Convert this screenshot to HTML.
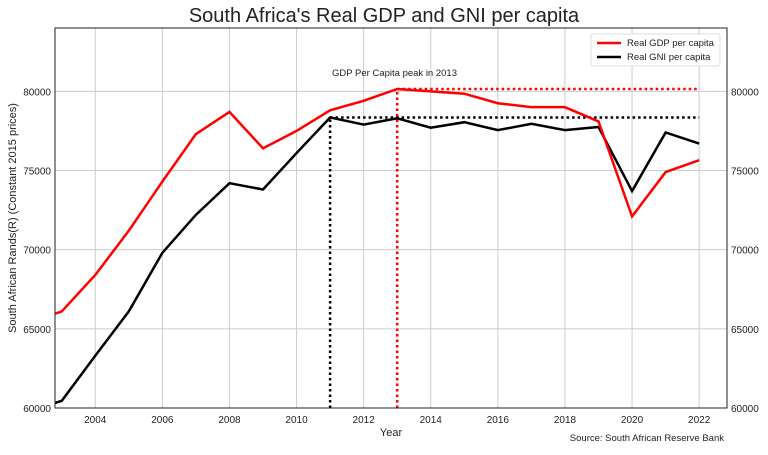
<!DOCTYPE html>
<html><head><meta charset="utf-8"><style>
body{margin:0;background:#fff;font-family:"Liberation Sans",sans-serif}
svg text{font-family:"Liberation Sans",sans-serif}
</style></head><body>
<svg id="c" width="768" height="450"></svg>
<script>
const years=[2002,2003,2004,2005,2006,2007,2008,2009,2010,2011,2012,2013,2014,2015,2016,2017,2018,2019,2020,2021,2022];
const gdp=[65400,66100,68400,71200,74300,77300,78700,76400,77500,78800,79400,80150,80000,79850,79250,79000,79000,78100,72100,74900,75650];
const gni=[59800,60450,63300,66100,69800,72200,74200,73800,76100,78350,77900,78300,77700,78050,77550,77950,77550,77750,73700,77400,76700];
const xTicks=[2004,2006,2008,2010,2012,2014,2016,2018,2020,2022];
const yTicks=[60000,65000,70000,75000,80000];
const L=55,R=727,T=28,B=408,x0=2002.8,x1=2022.83,y0=60000,y1=84000;
const X=v=>L+(v-x0)/(x1-x0)*(R-L), Y=v=>B-(v-y0)/(y1-y0)*(B-T);
const s=document.getElementById('c'),NS='http://www.w3.org/2000/svg';
function el(t,a,p){const e=document.createElementNS(NS,t);for(const k in a)e.setAttribute(k,a[k]);(p||s).appendChild(e);return e;}
const defs=el('defs',{});const cp=el('clipPath',{id:'clip'},defs);el('rect',{x:L,y:T,width:R-L,height:B-T},cp);
xTicks.forEach(v=>{const g=el('line',{x1:X(v),x2:X(v),y1:T,y2:B,stroke:'#ccc','stroke-width':1});


const t=el('text',{x:X(v),y:B+15,'font-size':10,'text-anchor':'middle',fill:'#222'});t.textContent=v;

});
yTicks.forEach(v=>{const g=el('line',{x1:L,x2:R,y1:Y(v),y2:Y(v),stroke:'#ccc','stroke-width':1});


const t=el('text',{x:L-4,y:Y(v)+4,'font-size':10,'text-anchor':'end',fill:'#222'});t.textContent=v;


const t2=el('text',{x:R+4,y:Y(v)+4,'font-size':10,'text-anchor':'start',fill:'#222'});t2.textContent=v;

});
const gpk=gdp[11],npk=gni[9];
function dl(a,b,c,d,col,n){const l=el('line',{x1:a,y1:b,x2:c,y2:d,stroke:col,'stroke-width':2.5,'stroke-dasharray':'2.5,3'});}
dl(X(2013),B,X(2013),Y(gpk),'#f00','gdp-peak-vertical');
dl(X(2013),Y(gpk),X(2022),Y(gpk),'#f00','gdp-peak-horizontal');
dl(X(2011),B,X(2011),Y(npk),'#000','gni-peak-vertical');
dl(X(2011),Y(npk),X(2022),Y(npk),'#000','gni-peak-horizontal');
function line(arr,col,n){const p=el('polyline',{points:years.map((y,i)=>X(y)+','+Y(arr[i])).join(' '),fill:'none',stroke:col,'stroke-width':2.5,'clip-path':'url(#clip)'});}
line(gni,'#000','gni-line');line(gdp,'#f00','gdp-line');
const fr=el('rect',{x:L,y:T,width:R-L,height:B-T,fill:'none',stroke:'#222','stroke-width':1});
function tx(x,y,t,fs,an,n,extra){const e=el('text',Object.assign({x:x,y:y,'font-size':fs,'text-anchor':an,fill:'#222'},extra||{}));e.textContent=t;}
tx(384,22,"South Africa's Real GDP and GNI per capita",20,'middle','chart-title');
tx(391,436,'Year',11,'middle','x-axis-title');
tx(16,218,'South African Rands(R) (Constant 2015 prices)',11,'middle','y-axis-title',{transform:'rotate(-90 16 218)'});
tx(332,76,'GDP Per Capita peak in 2013',9.5,'start','peak-annotation');
tx(724,441,'Source: South African Reserve Bank',9.5,'end','source-note');
const lg=el('rect',{x:591,y:34,width:129,height:32,fill:'#fff',stroke:'#ddd',rx:2});
[['Real GDP per capita','#f00',46],['Real GNI per capita','#000',60]].forEach(([t,c,y])=>{const l=el('line',{x1:597,x2:621,y1:y-3,y2:y-3,stroke:c,'stroke-width':2.5});tx(627,y,t,9.5,'start','legend-entry');});
</script>
</body></html>
